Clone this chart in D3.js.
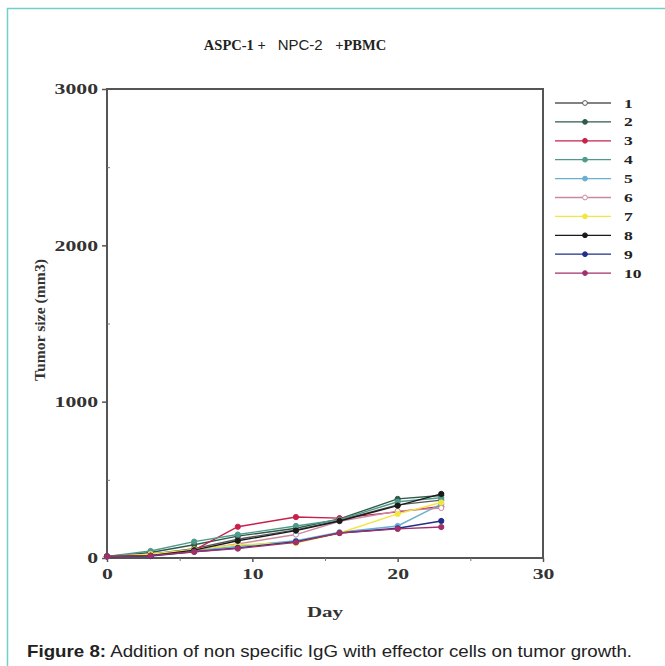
<!DOCTYPE html>
<html><head><meta charset="utf-8">
<script src="https://cdn.jsdelivr.net/npm/d3@7"></script>
<style>html,body{margin:0;padding:0;background:#fff;}svg{display:block;}</style>
</head><body>
<svg id="c" width="665" height="666"></svg>
<script>
const days = [0, 3, 6, 9, 13, 16, 20, 23];
const seriesNames = ["1","2","3","4","5","6","7","8","9","10"];
const s1  = [10, 25, 60, 120, 180, 240, 340, 370];
const s2  = [10, 35, 85, 140, 190, 250, 378, 400];
const s3  = [10, 20, 50, 200, 262, 255, 295, 330];
const s4  = [10, 45, 105, 150, 205, 245, 360, 385];
const s5  = [10, 20, 45, 75, 110, 165, 205, 345];
const s6  = [10, 20, 50, 90, 150, 235, 300, 320];
const s7  = [10, 25, 55, 85, 96, 160, 282, 355];
const s8  = [10, 15, 50, 110, 175, 237, 335, 410];
const s9  = [10, 12, 40, 65, 105, 160, 190, 237];
const s10 = [10, 15, 40, 60, 100, 160, 186, 198];
const seriesValues = [s1, s2, s3, s4, s5, s6, s7, s8, s9, s10];
const colors = ["#555a58","#2f5a4a","#c8204a","#4f9a8a","#6aaed0","#c98aa0","#f2e640","#1a1a1a","#1f2f8a","#a0306a"];
const openMarker = [true,false,false,false,false,true,false,false,false,false];
const xTicks = [0, 10, 20, 30];
const yTicks = [0, 1000, 2000, 3000];

const svg = d3.select("#c");
function stretch(sel, f){
  sel.each(function(){
    const w = this.getComputedTextLength();
    d3.select(this).attr("textLength", w*f).attr("lengthAdjust","spacingAndGlyphs");
  });
}
// outer frame
svg.append("rect").attr("x",7.5).attr("y",8.5).attr("width",700).attr("height",700)
  .attr("fill","none").attr("stroke","#6fd0c6").attr("stroke-width",1.5);

const x = d3.scaleLinear().domain([0,30]).range([107,543]);
const y = d3.scaleLinear().domain([0,3000]).range([558,89]);
const serif = "'Liberation Serif','DejaVu Serif',serif";

// title
const t = svg.append("text").attr("x",295).attr("y",50).attr("text-anchor","middle").attr("fill","#222");
t.append("tspan").attr("font-family",serif).attr("font-weight","bold").attr("font-size",14.5).text("ASPC-1 + ");
t.append("tspan").attr("font-family","'Liberation Sans',Arial,sans-serif").attr("font-size",15).text("\u00a0 NPC-2 \u00a0\u00a0");
t.append("tspan").attr("font-family",serif).attr("font-weight","bold").attr("font-size",14.5).text("+PBMC");

// box
svg.append("rect").attr("x",x(0)).attr("y",y(3000)).attr("width",x(30)-x(0)).attr("height",y(0)-y(3000))
  .attr("fill","none").attr("stroke","#555").attr("stroke-width",2);

// axes
const ya = d3.axisLeft(y).tickValues(yTicks).tickSize(5).tickFormat(d3.format("d"));
const yg = svg.append("g").attr("transform",`translate(${x(0)},0)`).call(ya);
yg.select(".domain").remove();
yg.selectAll("text").attr("font-family",serif).attr("font-weight","bold").attr("font-size",15).attr("fill","#333").attr("dx",-1);
stretch(yg.selectAll("text"),1.45);
yg.selectAll("line").attr("stroke","#555").attr("stroke-width",1.5);
const yMinor = d3.axisRight(y).tickValues([500,1500,2500]).tickSize(3).tickFormat("");
const ymg = svg.append("g").attr("transform",`translate(${x(0)},0)`).call(yMinor);
ymg.select(".domain").remove(); ymg.selectAll("line").attr("stroke","#777");

const xa = d3.axisBottom(x).tickValues(xTicks).tickSize(4).tickFormat(d3.format("d"));
const xg = svg.append("g").attr("transform",`translate(0,${y(0)})`).call(xa);
xg.select(".domain").remove();
xg.selectAll("text").attr("font-family",serif).attr("font-weight","bold").attr("font-size",15).attr("fill","#333").attr("dy","0.95em");
stretch(xg.selectAll("text"),1.45);
xg.selectAll("line").attr("stroke","#555").attr("stroke-width",1.5);
const xMinor = d3.axisBottom(x).tickValues([5,15,25]).tickSize(3).tickFormat("");
const xmg = svg.append("g").attr("transform",`translate(0,${y(0)})`).call(xMinor);
xmg.select(".domain").remove(); xmg.selectAll("line").attr("stroke","#777");

// axis labels
const dayLbl = svg.append("text").attr("x",325).attr("y",617).attr("text-anchor","middle")
  .attr("font-family",serif).attr("font-weight","bold").attr("font-size",15).attr("fill","#333").text("Day");
stretch(dayLbl,1.4);
const yl = svg.append("text").attr("transform","translate(45,320) rotate(-90)").attr("text-anchor","middle")
  .attr("font-family",serif).attr("font-weight","bold").attr("font-size",15).attr("fill","#333").text("Tumor size (mm3)")
  .attr("textLength",122).attr("lengthAdjust","spacingAndGlyphs");

// lines
const line = d3.line().x((d,i)=>x(days[i])).y(d=>y(d));
seriesValues.forEach((vals,k)=>{
  const g = svg.append("g");
  g.append("path").attr("d",line(vals)).attr("fill","none").attr("stroke",colors[k]).attr("stroke-width",1.4);
  g.selectAll("circle").data(vals).join("circle")
    .attr("cx",(d,i)=>x(days[i])).attr("cy",d=>y(d)).attr("r",2.6)
    .attr("fill",openMarker[k]?"#fff":colors[k]).attr("stroke",colors[k]).attr("stroke-width",1);
});

// legend
const lg = svg.append("g");
seriesNames.forEach((n,k)=>{
  const yy = 103 + k*18.9;
  lg.append("line").attr("x1",555).attr("x2",611).attr("y1",yy).attr("y2",yy).attr("stroke",colors[k]).attr("stroke-width",1.3);
  lg.append("circle").attr("cx",585).attr("cy",yy).attr("r",2.4)
    .attr("fill",openMarker[k]?"#fff":colors[k]).attr("stroke",colors[k]).attr("stroke-width",1);
  const tx = lg.append("text").attr("x",624).attr("y",yy+4.5).attr("font-family",serif).attr("font-weight","bold")
    .attr("font-size",13).attr("fill","#222").text(n);
  stretch(tx,1.35);
});

// caption
const cap = svg.append("text").attr("x",27).attr("y",657).attr("font-family","'Liberation Sans',Arial,sans-serif")
  .attr("font-size",16.5).attr("fill","#222");
cap.append("tspan").attr("font-weight","bold").text("Figure 8:");
cap.append("tspan").text(" Addition of non specific IgG with effector cells on tumor growth.");
cap.attr("textLength",605).attr("lengthAdjust","spacingAndGlyphs");
</script>
</body></html>
